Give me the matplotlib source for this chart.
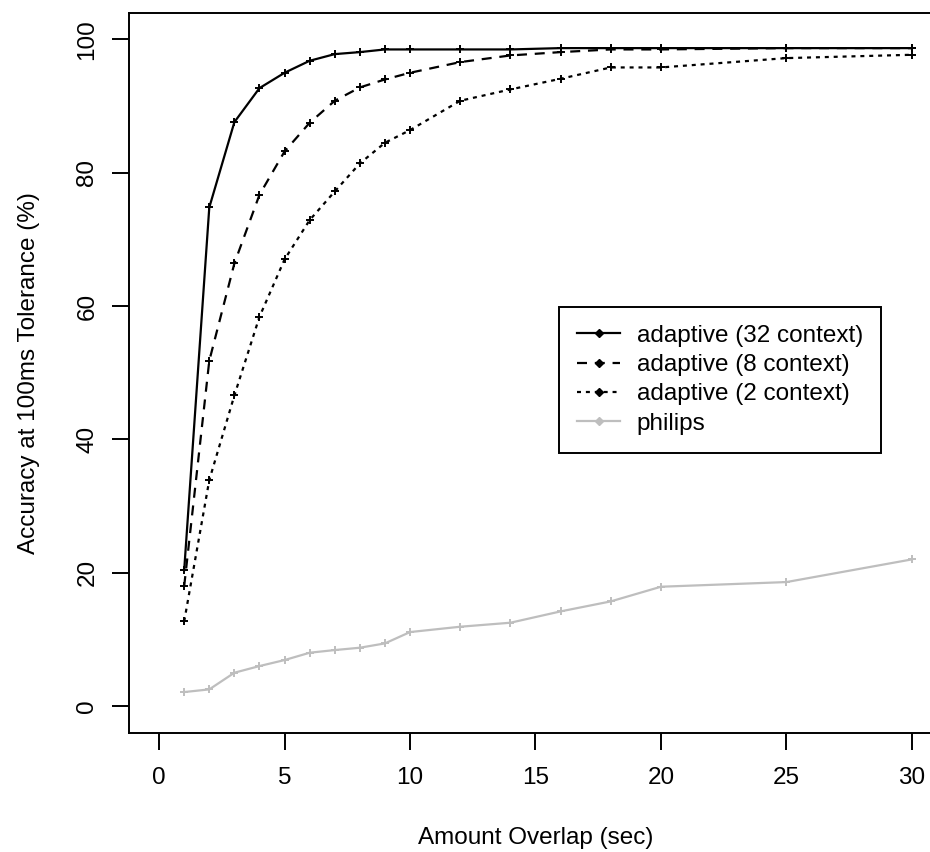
import matplotlib
matplotlib.use('Agg')
import matplotlib.pyplot as plt
from matplotlib.lines import Line2D

plt.rcParams['font.family'] = ['Liberation Sans', 'DejaVu Sans']
plt.rcParams['savefig.bbox'] = 'standard'

overlap = [1, 2, 3, 4, 5, 6, 7, 8, 9, 10, 12, 14, 16, 18, 20, 25, 30]
ctx32 = [20.4, 74.8, 87.6, 92.7, 95.0, 96.8, 97.8, 98.1, 98.5, 98.5, 98.5, 98.5, 98.7, 98.7, 98.7, 98.7, 98.7]
ctx8 = [18.0, 51.8, 66.4, 76.7, 83.2, 87.5, 90.8, 92.8, 94.0, 95.0, 96.6, 97.6, 98.1, 98.5, 98.5, 98.7, 98.7]
ctx2 = [12.7, 33.9, 46.6, 58.4, 67.0, 72.9, 77.2, 81.4, 84.5, 86.4, 90.8, 92.5, 94.1, 95.8, 95.8, 97.2, 97.7]
philips = [2.1, 2.5, 5.0, 6.0, 6.9, 8.0, 8.4, 8.75, 9.4, 11.1, 11.9, 12.5, 14.2, 15.7, 17.9, 18.6, 22.0]

labels = ['adaptive (32 context)', 'adaptive (8 context)', 'adaptive (2 context)', 'philips']
grey = '#bebebe'
dash = (0, (4.5, 3.5))
dot = (0, (1.8, 2.2))

fig = plt.figure(figsize=(9.3, 8.52), dpi=100)
ax = fig.add_axes([0.1387, 0.14, 0.8742, 0.845])

ax.plot(overlap, ctx32, color='black', lw=1.6, ls='-', marker='+', ms=5.5, mew=1.4)
ax.plot(overlap, ctx8, color='black', lw=1.6, ls=dash, marker='+', ms=5.5, mew=1.4)
ax.plot(overlap, ctx2, color='black', lw=1.6, ls=dot, marker='+', ms=5.5, mew=1.4)
ax.plot(overlap, philips, color=grey, lw=1.6, ls='-', marker='+', ms=5.5, mew=1.4)

ax.set_xlim(-1.2, 31.2)
ax.set_ylim(-4, 104)
ax.set_xticks([0, 5, 10, 15, 20, 25, 30])
ax.set_yticks([0, 20, 40, 60, 80, 100])
ax.tick_params(direction='out', length=12, width=1.4, labelsize=17.5)
ax.tick_params(axis='x', pad=13)
ax.tick_params(axis='y', pad=10)
for lab in ax.get_yticklabels():
    lab.set_rotation(90)
    lab.set_va('center')
for s in ax.spines.values():
    s.set_linewidth(1.4)
# the box runs past the right edge of the picture
ax.spines['right'].set_visible(False)

ax.set_xlabel('Amount Overlap (sec)', fontsize=17.5, labelpad=27)
ax.set_ylabel('Accuracy at 100ms Tolerance (%)', fontsize=17.5, labelpad=26)

handles = [
    Line2D([], [], color='black', lw=1.6, ls='-', marker='D', ms=4),
    Line2D([], [], color='black', lw=1.6, ls=dash, marker='D', ms=4),
    Line2D([], [], color='black', lw=1.6, ls=dot, marker='D', ms=4),
    Line2D([], [], color=grey, lw=1.6, ls='-', marker='D', ms=4),
]
leg = ax.legend(handles, labels, loc='upper left', bbox_to_anchor=(0.529, 0.592),
                fontsize=17.5, frameon=True, fancybox=False, framealpha=1,
                edgecolor='black', borderaxespad=0, borderpad=0.75,
                handlelength=1.75, handletextpad=0.7, labelspacing=0.3)
leg.get_frame().set_linewidth(1.4)

fig.savefig('out.png', dpi=100)
